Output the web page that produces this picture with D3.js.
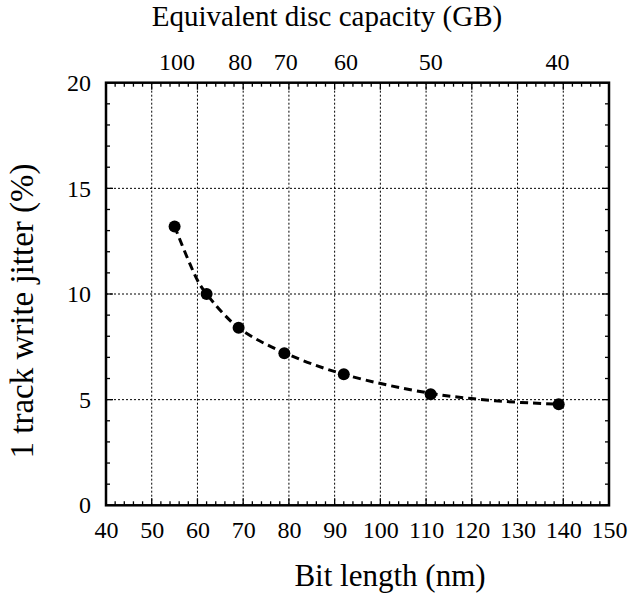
<!DOCTYPE html>
<html>
<head>
<meta charset="utf-8">
<script src="https://cdn.jsdelivr.net/npm/d3@7"></script>
<style>
  html, body { margin: 0; padding: 0; background: #fff; }
  svg { display: block; }
</style>
</head>
<body>
<svg id="chart" width="632" height="597"></svg>
<script>
// ---- data ----
const bitLength = [55, 62, 69, 79, 92, 111, 139];          // nm
const jitter    = [13.2, 10.0, 8.4, 7.2, 6.2, 5.25, 4.78]; // %
// dashed fitted curve
const fitBitLength = [55, 60, 62, 69, 79, 92, 111, 125, 139];
const fitJitter    = [13.2, 10.65, 10.0, 8.4, 7.22, 6.2, 5.3, 4.95, 4.78];
const xTicks = [40, 50, 60, 70, 80, 90, 100, 110, 120, 130, 140, 150];
const yTicks = [0, 5, 10, 15, 20];
const capacityTicks = [100, 80, 70, 60, 50, 40];            // GB
const capacityConstant = 5550;                              // GB*nm : bit length = k / capacity

const FONT = '"Liberation Serif"';
const svg = d3.select("#chart");
const L = 106, R = 609, T = 82.7, B = 505.3;
const x = d3.scaleLinear().domain([40, 150]).range([L, R]);
const y = d3.scaleLinear().domain([0, 20]).range([B, T]);

// grid
const grid = svg.append("g").attr("stroke", "#000").attr("stroke-width", 1)
  .attr("stroke-dasharray", "2,2").attr("fill", "none");
xTicks.filter(v => v > 40 && v < 150).forEach(v => {
  grid.append("line").attr("x1", x(v)).attr("x2", x(v)).attr("y1", T).attr("y2", B);
});
yTicks.filter(v => v > 0 && v < 20).forEach(v => {
  grid.append("line").attr("x1", L).attr("x2", R).attr("y1", y(v)).attr("y2", y(v));
});

// axes with inward ticks
const minorX = d3.range(40, 150.001, 2);
const minorY = d3.range(0, 20.001, 1);
const major = 7, minor = 4;
const tk = svg.append("g").attr("stroke", "#000").attr("stroke-width", 1.3);
minorX.forEach(v => {
  const len = (Math.round(v) % 10 === 0) ? major : minor;
  tk.append("line").attr("x1", x(v)).attr("x2", x(v)).attr("y1", B).attr("y2", B - len);
  tk.append("line").attr("x1", x(v)).attr("x2", x(v)).attr("y1", T).attr("y2", T + len);
});
minorY.forEach(v => {
  const len = (Math.round(v) % 5 === 0) ? major : minor;
  tk.append("line").attr("x1", L).attr("x2", L + len).attr("y1", y(v)).attr("y2", y(v));
  tk.append("line").attr("x1", R).attr("x2", R - len).attr("y1", y(v)).attr("y2", y(v));
});

// bottom axis labels via d3 axis (ticks hidden, only labels)
const xAxis = svg.append("g").attr("transform", `translate(0,${B})`)
  .call(d3.axisBottom(x).tickValues(xTicks).tickSize(0).tickPadding(16).tickFormat(d3.format("d")));
xAxis.attr("font-family", FONT).attr("font-size", 24);
xAxis.select(".domain").remove();

const yAxis = svg.append("g").attr("transform", `translate(${L},0)`)
  .call(d3.axisLeft(y).tickValues(yTicks).tickSize(0).tickPadding(15).tickFormat(d3.format("d")));
yAxis.attr("font-family", FONT).attr("font-size", 24);
yAxis.select(".domain").remove();

// top capacity labels
svg.append("g").attr("font-family", FONT).attr("font-size", 24)
  .selectAll("text").data(capacityTicks).join("text")
  .attr("x", d => x(capacityConstant / d)).attr("y", T - 13)
  .attr("text-anchor", "middle").text(d => d);

// frame
svg.append("rect").attr("x", L).attr("y", T).attr("width", R - L).attr("height", B - T)
  .attr("fill", "none").attr("stroke", "#000").attr("stroke-width", 2.5);

// fitted dashed curve
const line = d3.line().x(d => x(d[0])).y(d => y(d[1])).curve(d3.curveCatmullRom.alpha(0.5));
svg.append("path").datum(fitBitLength.map((v, i) => [v, fitJitter[i]]))
  .attr("d", line).attr("fill", "none").attr("stroke", "#000")
  .attr("stroke-width", 3).attr("stroke-dasharray", "8,5");

// points
svg.append("g").selectAll("circle").data(bitLength.map((v, i) => [v, jitter[i]])).join("circle")
  .attr("cx", d => x(d[0])).attr("cy", d => y(d[1])).attr("r", 6).attr("fill", "#000");

// titles
svg.append("text").attr("x", 390).attr("y", 586).attr("text-anchor", "middle")
  .attr("font-family", FONT).attr("font-size", 31).text("Bit length (nm)");
svg.append("text").attr("x", 327).attr("y", 26).attr("text-anchor", "middle")
  .attr("font-family", FONT).attr("font-size", 29).text("Equivalent disc capacity (GB)");
svg.append("text").attr("transform", `translate(33,311) rotate(-90)`)
  .attr("text-anchor", "middle").attr("font-family", FONT).attr("font-size", 33)
  .text("1 track write jitter (%)");
</script>
</body>
</html>
